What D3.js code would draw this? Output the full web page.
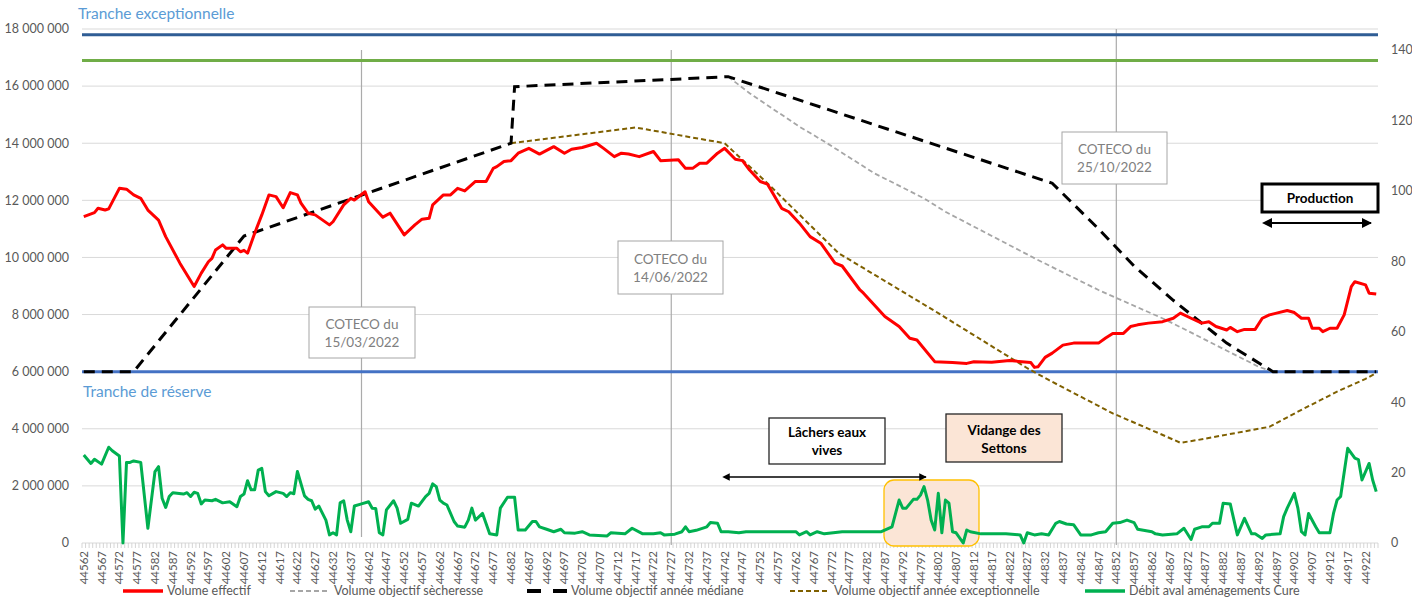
<!DOCTYPE html>
<html><head><meta charset="utf-8">
<script src="https://cdn.jsdelivr.net/npm/d3@7/dist/d3.min.js"></script>
<style>
body{margin:0;background:#fff}
svg{display:block}
text{font-family:Lato,"Open Sans",sans-serif}
</style>
</head><body>
<svg id="c" width="1412" height="599"></svg>
<script>
// ---------- DATA ----------
const categories = d3.range(44562, 44926); // daily categories (Excel serials)
const xTickStep = 5;
const leftTicks = [0,2000000,4000000,6000000,8000000,10000000,12000000,14000000,16000000,18000000];
const rightTicks = [0,20,40,60,80,100,120,140];

// Volume effectif (left axis) : category index / value
const effIdx = [0,3,4,6,7,10,12,14,16,18,21,23,27,31,33,35,36,37,39,40,43,44,45,46,48,50,52,54,56,58,60,61,63,65,69,70,73,75,76,79,80,84,86,90,93,95,97,98,101,103,105,107,110,113,115,116,118,120,122,125,128,132,135,137,140,144,146,149,151,153,156,160,162,167,169,171,173,175,178,180,183,185,187,190,192,196,198,201,204,207,211,213,218,219,225,229,232,234,239,244,248,250,255,260,266,267,268,270,272,275,278,285,287,289,292,294,296,299,303,306,308,311,314,316,318,321,322,324,326,329,331,333,335,338,340,342,344,345,347,348,350,352,354,356,357,360,361,363];
const effVal = [11430000,11570000,11720000,11660000,11700000,12420000,12390000,12190000,12070000,11660000,11310000,10730000,9800000,8980000,9450000,9850000,9970000,10260000,10440000,10320000,10320000,10200000,10250000,10150000,10850000,11490000,12190000,12130000,11740000,12270000,12190000,11900000,11550000,11490000,11140000,11250000,11840000,12070000,12010000,12300000,11950000,11410000,11550000,10790000,11140000,11340000,11370000,11840000,12190000,12190000,12420000,12330000,12660000,12660000,13120000,13180000,13360000,13390000,13650000,13820000,13620000,13880000,13650000,13790000,13850000,14000000,13820000,13530000,13650000,13620000,13530000,13710000,13390000,13420000,13120000,13120000,13300000,13300000,13650000,13820000,13440000,13390000,13060000,12660000,12570000,11720000,11600000,11200000,10730000,10500000,9800000,9700000,8860000,8750000,7930000,7580000,7170000,7110000,6350000,6320000,6290000,6350000,6330000,6390000,6320000,6150000,6170000,6500000,6650000,6930000,7000000,7000000,7180000,7340000,7340000,7580000,7640000,7700000,7750000,7870000,8050000,7870000,7700000,7750000,7580000,7460000,7550000,7400000,7480000,7480000,7870000,7990000,8050000,8140000,8070000,7870000,7870000,7520000,7520000,7400000,7520000,7520000,7990000,8980000,9150000,9040000,8750000,8720000];

// Volume objectif sècheresse
const secIdx = [181,187,201,208,222,236,242,268,285,304,330,334];
const secVal = [16330000,15750000,14580000,14060000,12950000,12070000,11600000,9910000,8860000,7810000,6170000,6000000];

// Volume objectif année médiane
const medIdx = [0,14,45,120,121,181,272,285,295,306,321,334,363];
const medVal = [6000000,6000000,10750000,14000000,15980000,16330000,12600000,11000000,9700000,8500000,7000000,6000000,6000000];

// Volume objectif année exceptionnelle
const excIdx = [120,155,180,192,212,240,265,271,289,302,308,313,333,341,352,360,363];
const excVal = [14000000,14550000,14000000,12600000,10150000,8050000,6120000,5710000,4540000,3840000,3510000,3610000,4070000,4600000,5300000,5750000,5950000];

// Débit aval aménagements Cure (right axis)
const debIdx = [0,2,3,5,7,8,10,11,12,13,14,16,18,20,21,22,23,24,25,28,29,30,31,32,33,34,36,37,39,41,43,44,45,46,47,48,49,50,51,52,54,56,57,58,59,60,62,63,64,65,66,68,69,70,71,72,73,74,75,76,78,80,81,82,83,84,85,87,88,89,91,92,94,96,97,98,99,100,101,102,104,105,107,108,109,110,112,114,116,117,119,121,122,124,126,127,128,130,132,134,135,138,140,142,147,148,152,154,157,160,162,163,166,168,169,170,172,175,176,178,179,181,184,186,195,200,201,203,204,206,208,213,224,227,229,230,231,233,234,235,236,237,238,239,240,241,242,243,244,245,247,248,249,252,255,259,263,264,265,267,269,271,273,274,276,278,280,283,285,287,289,291,293,295,296,300,301,303,307,309,311,312,314,316,317,319,320,322,324,326,328,329,331,332,336,337,338,340,341,342,343,344,346,347,350,351,352,353,355,357,358,359,361,362,363];
const debVal = [25.0,22.6,23.8,22.4,27.2,26.2,24.7,0,22.9,22.9,23.3,22.9,4.2,20.3,21.7,12.7,10.1,13.2,14.3,13.9,14.3,13.2,14.4,14.1,11.1,12.2,12.0,12.4,11.4,11.7,10.3,13.2,13.9,17.7,15.1,15.1,20.7,21.2,14.6,13.4,14.6,14.1,13.2,14.3,14.0,20.3,13.4,12.4,12.0,9.6,10.5,6.5,2.3,2.9,2.3,11.4,12.0,6.5,3.2,10.5,11.1,11.7,9.9,9.8,2.9,2.3,9.4,12.0,9.9,5.6,6.7,11.3,10.5,13.2,14.1,16.8,16.0,12.2,11.3,10.8,6.1,4.8,4.5,6.5,9.9,6.5,8.4,2.6,2.3,9.9,13.0,13.0,3.7,3.7,6.1,6.1,4.6,3.9,3.2,3.9,2.9,2.8,3.2,2.3,2.0,2.9,2.6,4.2,2.6,2.6,2.9,2.3,2.5,3.2,4.6,3.2,3.6,4.6,5.8,5.6,3.2,3.2,2.9,3.2,3.2,3.2,2.3,3.2,2.3,3.2,2.6,3.2,3.2,4.6,12.2,9.9,9.9,12.4,12.4,13.6,16.0,12.2,6.5,3.7,14.1,2.9,12.2,11.3,3.2,2.9,0,3.7,3.2,2.6,2.6,2.6,2.3,0,2.9,2.3,2.6,2.3,5.6,6.1,5.4,5.2,2.3,2.3,2.9,3.2,5.6,5.8,6.5,5.8,3.9,3.2,2.6,2.3,2.6,4.2,1.0,3.9,4.6,4.6,5.6,5.6,11.3,11.1,2.3,7.0,2.6,2.6,1.3,2.3,2.6,7.5,9.9,14.1,9.9,3.2,2.3,8.4,4.6,2.9,2.9,8.4,12.2,13.2,26.9,24.1,23.7,17.9,22.6,17.9,14.6];

// Reference levels (left axis)
const refLevels = [17800000, 16900000, 6000000];

// COTECO meetings
const cotecoLabels = ["15/03/2022","14/06/2022","25/10/2022"];
const cotecoCats = [44640, 44727, 44852];

const legendLabels = ["Volume effectif","Volume objectif sècheresse","Volume objectif année médiane","Volume objectif année exceptionnelle","Débit aval aménagements Cure"];

// ---------- LAYOUT ----------
const svg = d3.select("#c");
svg.append("rect").attr("width",1412).attr("height",599).attr("fill","#fff");
const L = 82, R = 1378, T = 29, B = 543;
const x = d3.scaleBand().domain(categories).range([L, R]);
const bw = x.bandwidth();
const cx = c => x(c) + bw/2;
const yL = d3.scaleLinear().domain([0,18000000]).range([B,T]);
const yR = d3.scaleLinear().domain([0,146]).range([B,T]);
const grey = "#595959";

// gridlines
svg.append("g").selectAll("line").data(leftTicks.slice(1)).join("line")
  .attr("x1",L).attr("x2",R).attr("y1",d=>yL(d)).attr("y2",d=>yL(d))
  .attr("stroke","#D9D9D9").attr("stroke-width",1);

// left axis labels
const fmt = v => d3.format(",")(v).replace(/,/g," ");
svg.append("g").selectAll("text").data(leftTicks).join("text")
  .attr("x",69).attr("y",d=>yL(d)).attr("dy","0.35em").attr("text-anchor","end")
  .attr("font-size",12.5).attr("fill",grey).text(fmt);
// right axis labels
svg.append("g").selectAll("text").data(rightTicks).join("text")
  .attr("x",1391).attr("y",d=>yR(d)).attr("dy","0.35em").attr("text-anchor","start")
  .attr("font-size",12.5).attr("fill",grey).text(d=>d);

// x axis
svg.append("line").attr("x1",L).attr("x2",R).attr("y1",B).attr("y2",B).attr("stroke","#D9D9D9");
svg.append("g").selectAll("line").data(categories.concat([null])).join("line")
  .attr("x1",(d,i)=>L+i*bw).attr("x2",(d,i)=>L+i*bw).attr("y1",B).attr("y2",B+5)
  .attr("stroke","#D0D0D0").attr("stroke-width",0.9);
svg.append("g").selectAll("text").data(categories.filter((d,i)=>i%xTickStep===0)).join("text")
  .attr("transform",d=>`translate(${cx(d)},551) rotate(-90)`)
  .attr("dy","0.35em").attr("text-anchor","end")
  .attr("font-size",11.5).attr("fill",grey).text(d=>d);

// COTECO vertical lines
const vTop = [50, 50, 29];
svg.append("g").selectAll("line").data(cotecoCats).join("line")
  .attr("x1",d=>cx(d)).attr("x2",d=>cx(d)).attr("y1",(d,i)=>vTop[i]).attr("y2",(d,i)=>i===0?537:B+2)
  .attr("stroke","#ABABAB").attr("stroke-width",1.2);

// reference levels
const refColors = ["#2F5D95","#70AD47","#4472C4"];
svg.append("g").selectAll("line").data(refLevels).join("line")
  .attr("x1",L).attr("x2",R).attr("y1",d=>yL(d)).attr("y2",d=>yL(d))
  .attr("stroke",(d,i)=>refColors[i]).attr("stroke-width",3);

// tranche labels
svg.append("text").attr("x",78).attr("y",19).attr("font-size",15.5).attr("fill","#5B9BD5").text("Tranche exceptionnelle");
svg.append("text").attr("x",83).attr("y",397).attr("font-size",15.5).attr("fill","#5B9BD5").text("Tranche de réserve");

// Vidange zone
svg.append("rect").attr("x",884).attr("y",480).attr("width",95).attr("height",66).attr("rx",10)
  .attr("fill","#FBE5D6").attr("stroke","#FFC000").attr("stroke-width",1.3);

// series
const mk = (idx, vals, y) => d3.line().x((d,i)=>cx(categories[idx[i]])).y(d=>y(d)).curve(d3.curveLinear)(vals);
svg.append("path").attr("d",mk(secIdx,secVal,yL)).attr("fill","none").attr("stroke","#A6A6A6").attr("stroke-width",1.8).attr("stroke-dasharray","5,3");
svg.append("path").attr("d",mk(excIdx,excVal,yL)).attr("fill","none").attr("stroke","#7F6000").attr("stroke-width",2).attr("stroke-dasharray","5,3");
svg.append("path").attr("d",mk(medIdx,medVal,yL)).attr("fill","none").attr("stroke","#000").attr("stroke-width",3).attr("stroke-dasharray","11,7");
svg.append("path").attr("d",mk(effIdx,effVal,yL)).attr("fill","none").attr("stroke","#FF0000").attr("stroke-width",3).attr("stroke-linejoin","round");
svg.append("path").attr("d",mk(debIdx,debVal,yR)).attr("fill","none").attr("stroke","#00B050").attr("stroke-width",3).attr("stroke-linejoin","round");

// COTECO boxes
const cBoxes = [{x:309,y:307,w:106,h:51},{x:618,y:241,w:105,h:53},{x:1062,y:132,w:105,h:52}];
cBoxes.forEach((b,i)=>{
  svg.append("rect").attr("x",b.x).attr("y",b.y).attr("width",b.w).attr("height",b.h)
    .attr("fill","#fff").attr("stroke","#A6A6A6").attr("stroke-width",1);
  const t = svg.append("text").attr("text-anchor","middle").attr("font-size",13.5).attr("fill","#808080");
  t.append("tspan").attr("x",b.x+b.w/2).attr("y",b.y+b.h/2-4).text("COTECO du");
  t.append("tspan").attr("x",b.x+b.w/2).attr("y",b.y+b.h/2+14).text(cotecoLabels[i]);
});

// arrow markers
const defs = svg.append("defs");
["s","e"].forEach(k=>{
  defs.append("marker").attr("id","arr"+k).attr("viewBox","0 0 10 10").attr("refX",k==="e"?9:1).attr("refY",5)
    .attr("markerWidth",5).attr("markerHeight",5).attr("orient","auto-start-reverse")
    .append("path").attr("d","M0,0 L10,5 L0,10 z").attr("fill","#000");
});
function dArrow(x1,x2,y,w){
  svg.append("line").attr("x1",x1).attr("x2",x2).attr("y1",y).attr("y2",y)
    .attr("stroke","#000").attr("stroke-width",w)
    .attr("marker-start","url(#arrs)").attr("marker-end","url(#arre)");
}

// Lâchers eaux vives
svg.append("rect").attr("x",769).attr("y",418).attr("width",116).attr("height",46).attr("fill","#fff").attr("stroke","#262626").attr("stroke-width",1.3);
let t1 = svg.append("text").attr("text-anchor","middle").attr("font-size",13.5).attr("font-weight","bold").attr("fill","#000");
t1.append("tspan").attr("x",827).attr("y",437).text("Lâchers eaux");
t1.append("tspan").attr("x",827).attr("y",455).text("vives");
dArrow(729,926,477,1.5);

// Vidange des Settons
svg.append("rect").attr("x",946).attr("y",414).attr("width",116).attr("height",48).attr("fill","#FBE5D6").attr("stroke","#262626").attr("stroke-width",1.3);
let t2 = svg.append("text").attr("text-anchor","middle").attr("font-size",13.5).attr("font-weight","bold").attr("fill","#000");
t2.append("tspan").attr("x",1004).attr("y",435).text("Vidange des");
t2.append("tspan").attr("x",1004).attr("y",453).text("Settons");

// Production
svg.append("rect").attr("x",1262).attr("y",184).attr("width",116).attr("height",28).attr("fill","#fff").attr("stroke","#000").attr("stroke-width",3);
svg.append("text").attr("x",1320).attr("y",198).attr("dy","0.35em").attr("text-anchor","middle").attr("font-size",13.5).attr("font-weight","bold").text("Production");
dArrow(1271,1371,223,2);

// legend
const legX = [123, 290, 527, 790, 1085];
const legStyle = [
  {c:"#FF0000",w:3.5,d:null},{c:"#A6A6A6",w:1.8,d:"5,3"},{c:"#000",w:4,d:"14,12"},
  {c:"#7F6000",w:2,d:"5,3"},{c:"#00B050",w:3.5,d:null}];
legendLabels.forEach((lab,i)=>{
  const s = legStyle[i];
  const ln = svg.append("line").attr("x1",legX[i]).attr("x2",legX[i]+40).attr("y1",591).attr("y2",591)
    .attr("stroke",s.c).attr("stroke-width",s.w);
  if(s.d) ln.attr("stroke-dasharray",s.d);
  svg.append("text").attr("x",legX[i]+44).attr("y",591).attr("dy","0.35em").attr("font-size",12.5).attr("fill",grey).text(lab);
});
</script>
</body></html>
